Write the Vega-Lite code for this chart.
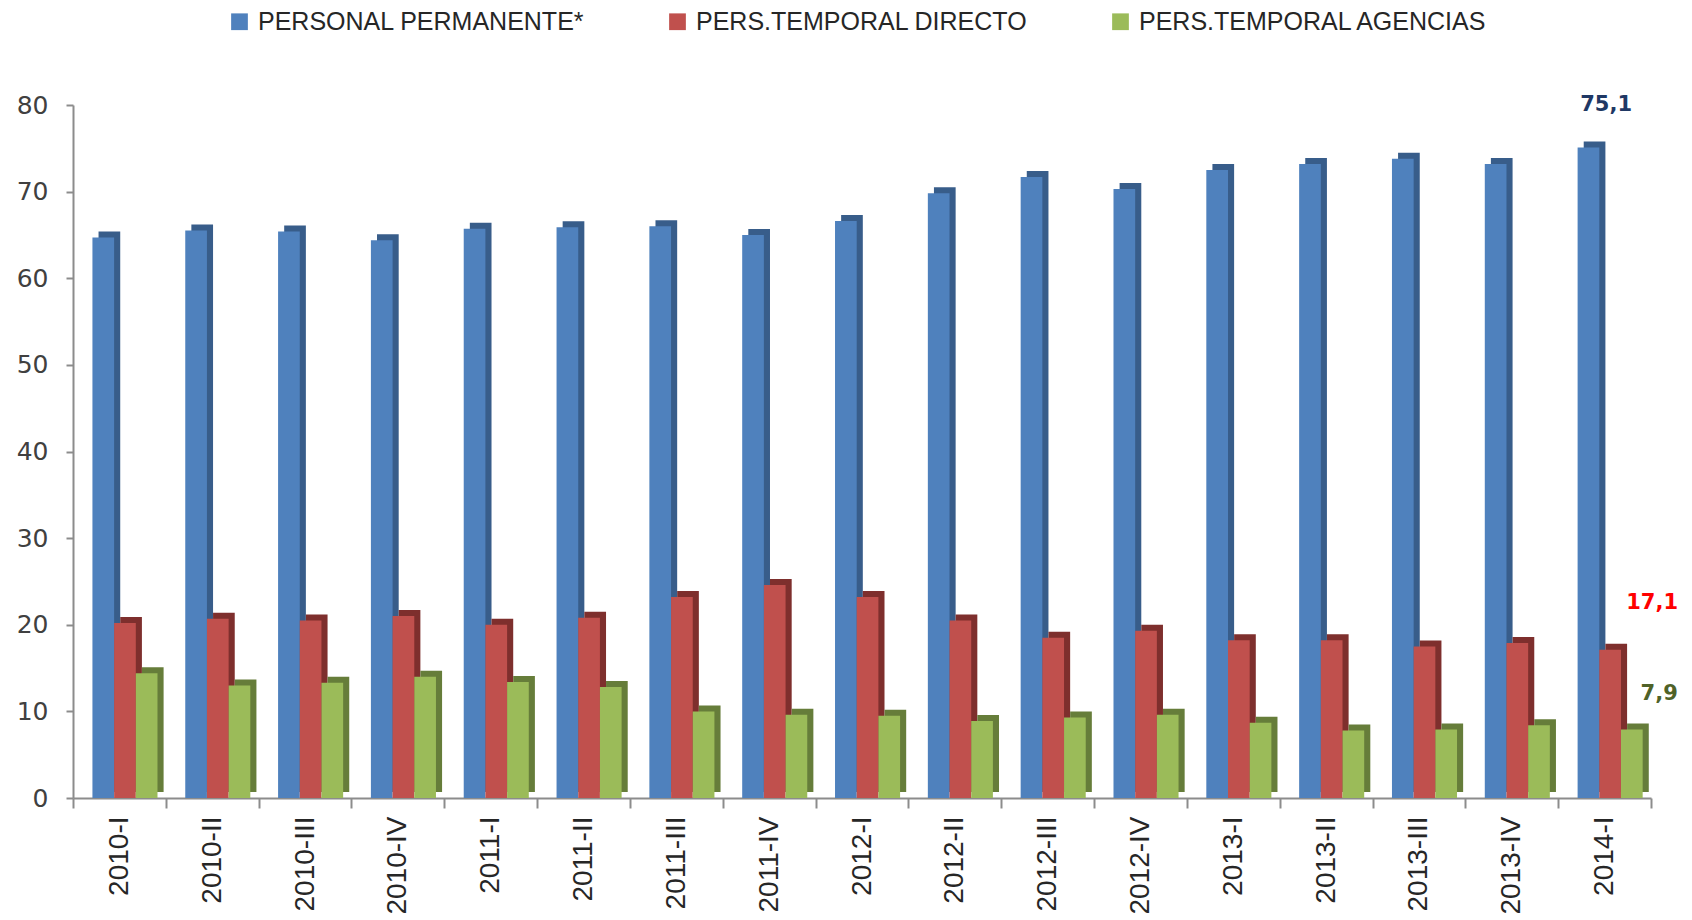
{
  "$schema": "https://vega.github.io/schema/vega-lite/v6.json",
  "width": 1578,
  "height": 693,
  "autosize": {"type": "none"},
  "padding": {"left": 73, "top": 105, "right": 41, "bottom": 122},
  "background": "white",
  "config": {
    "view": {"stroke": null},
    "locale": {"number": {"decimal": ",", "thousands": ".", "grouping": [3], "currency": ["", " €"]}}
  },
  "data": {
    "values": [
      {"q": "2010-I", "serie": "PERSONAL PERMANENTE*", "v": 64.7},
      {"q": "2010-II", "serie": "PERSONAL PERMANENTE*", "v": 65.5},
      {"q": "2010-III", "serie": "PERSONAL PERMANENTE*", "v": 65.4},
      {"q": "2010-IV", "serie": "PERSONAL PERMANENTE*", "v": 64.4},
      {"q": "2011-I", "serie": "PERSONAL PERMANENTE*", "v": 65.7},
      {"q": "2011-II", "serie": "PERSONAL PERMANENTE*", "v": 65.9},
      {"q": "2011-III", "serie": "PERSONAL PERMANENTE*", "v": 66.0},
      {"q": "2011-IV", "serie": "PERSONAL PERMANENTE*", "v": 65.0},
      {"q": "2012-I", "serie": "PERSONAL PERMANENTE*", "v": 66.6},
      {"q": "2012-II", "serie": "PERSONAL PERMANENTE*", "v": 69.8},
      {"q": "2012-III", "serie": "PERSONAL PERMANENTE*", "v": 71.7},
      {"q": "2012-IV", "serie": "PERSONAL PERMANENTE*", "v": 70.3},
      {"q": "2013-I", "serie": "PERSONAL PERMANENTE*", "v": 72.5},
      {"q": "2013-II", "serie": "PERSONAL PERMANENTE*", "v": 73.2},
      {"q": "2013-III", "serie": "PERSONAL PERMANENTE*", "v": 73.8},
      {"q": "2013-IV", "serie": "PERSONAL PERMANENTE*", "v": 73.2},
      {"q": "2014-I", "serie": "PERSONAL PERMANENTE*", "v": 75.1},
      {"q": "2010-I", "serie": "PERS.TEMPORAL DIRECTO", "v": 20.2},
      {"q": "2010-II", "serie": "PERS.TEMPORAL DIRECTO", "v": 20.7},
      {"q": "2010-III", "serie": "PERS.TEMPORAL DIRECTO", "v": 20.5},
      {"q": "2010-IV", "serie": "PERS.TEMPORAL DIRECTO", "v": 21.0},
      {"q": "2011-I", "serie": "PERS.TEMPORAL DIRECTO", "v": 20.0},
      {"q": "2011-II", "serie": "PERS.TEMPORAL DIRECTO", "v": 20.8},
      {"q": "2011-III", "serie": "PERS.TEMPORAL DIRECTO", "v": 23.2},
      {"q": "2011-IV", "serie": "PERS.TEMPORAL DIRECTO", "v": 24.6},
      {"q": "2012-I", "serie": "PERS.TEMPORAL DIRECTO", "v": 23.2},
      {"q": "2012-II", "serie": "PERS.TEMPORAL DIRECTO", "v": 20.5},
      {"q": "2012-III", "serie": "PERS.TEMPORAL DIRECTO", "v": 18.5},
      {"q": "2012-IV", "serie": "PERS.TEMPORAL DIRECTO", "v": 19.3},
      {"q": "2013-I", "serie": "PERS.TEMPORAL DIRECTO", "v": 18.2},
      {"q": "2013-II", "serie": "PERS.TEMPORAL DIRECTO", "v": 18.2},
      {"q": "2013-III", "serie": "PERS.TEMPORAL DIRECTO", "v": 17.5},
      {"q": "2013-IV", "serie": "PERS.TEMPORAL DIRECTO", "v": 17.9},
      {"q": "2014-I", "serie": "PERS.TEMPORAL DIRECTO", "v": 17.1},
      {"q": "2010-I", "serie": "PERS.TEMPORAL AGENCIAS", "v": 14.4},
      {"q": "2010-II", "serie": "PERS.TEMPORAL AGENCIAS", "v": 13.0},
      {"q": "2010-III", "serie": "PERS.TEMPORAL AGENCIAS", "v": 13.3},
      {"q": "2010-IV", "serie": "PERS.TEMPORAL AGENCIAS", "v": 14.0},
      {"q": "2011-I", "serie": "PERS.TEMPORAL AGENCIAS", "v": 13.4},
      {"q": "2011-II", "serie": "PERS.TEMPORAL AGENCIAS", "v": 12.8},
      {"q": "2011-III", "serie": "PERS.TEMPORAL AGENCIAS", "v": 10.0},
      {"q": "2011-IV", "serie": "PERS.TEMPORAL AGENCIAS", "v": 9.6},
      {"q": "2012-I", "serie": "PERS.TEMPORAL AGENCIAS", "v": 9.5},
      {"q": "2012-II", "serie": "PERS.TEMPORAL AGENCIAS", "v": 8.9},
      {"q": "2012-III", "serie": "PERS.TEMPORAL AGENCIAS", "v": 9.3},
      {"q": "2012-IV", "serie": "PERS.TEMPORAL AGENCIAS", "v": 9.6},
      {"q": "2013-I", "serie": "PERS.TEMPORAL AGENCIAS", "v": 8.7},
      {"q": "2013-II", "serie": "PERS.TEMPORAL AGENCIAS", "v": 7.8},
      {"q": "2013-III", "serie": "PERS.TEMPORAL AGENCIAS", "v": 7.9},
      {"q": "2013-IV", "serie": "PERS.TEMPORAL AGENCIAS", "v": 8.4},
      {"q": "2014-I", "serie": "PERS.TEMPORAL AGENCIAS", "v": 7.9}
    ]
  },
  "encoding": {
    "x": {
      "field": "q", "type": "nominal", "sort": null,
      "scale": {"paddingInner": 0, "paddingOuter": 0},
      "axis": {
        "title": null, "labelAngle": -90, "labelAlign": "right", "labelBaseline": "middle",
        "labelFont": "Liberation Sans", "labelFontSize": 28, "labelColor": "#262626",
        "tickBand": "extent", "tickSize": 10, "tickColor": "#8c8c8c", "tickWidth": 2,
        "domainColor": "#8c8c8c", "domainWidth": 2, "labelPadding": 8
      }
    },
    "y": {
      "field": "v", "type": "quantitative",
      "scale": {"domain": [0, 80], "nice": false},
      "axis": {
        "title": null, "values": [0, 10, 20, 30, 40, 50, 60, 70, 80], "grid": false,
        "labelFont": "DejaVu Sans", "labelFontSize": 25, "labelColor": "#404040",
        "tickSize": 7, "tickColor": "#8c8c8c", "tickWidth": 2,
        "domainColor": "#8c8c8c", "domainWidth": 2, "labelPadding": 18
      }
    }
  },
  "layer": [
    {
      "mark": {"type": "bar", "yOffset": -6},
      "encoding": {
        "xOffset": {
          "field": "serie", "type": "nominal",
          "sort": ["PERSONAL PERMANENTE*", "PERS.TEMPORAL DIRECTO", "PERS.TEMPORAL AGENCIAS"],
          "scale": {"paddingInner": 0, "paddingOuter": 0.64, "align": 0.92}
        },
        "color": {
          "field": "serie", "type": "nominal", "legend": null,
          "scale": {
            "domain": ["PERSONAL PERMANENTE*", "PERS.TEMPORAL DIRECTO", "PERS.TEMPORAL AGENCIAS"],
            "range": ["#385D8A", "#7E2F2D", "#667D3A"]
          }
        }
      }
    },
    {
      "mark": {"type": "bar"},
      "encoding": {
        "xOffset": {
          "field": "serie", "type": "nominal",
          "sort": ["PERSONAL PERMANENTE*", "PERS.TEMPORAL DIRECTO", "PERS.TEMPORAL AGENCIAS"],
          "scale": {"paddingInner": 0, "paddingOuter": 0.64, "align": 0.7}
        },
        "color": {
          "field": "serie", "type": "nominal",
          "scale": {
            "domain": ["PERSONAL PERMANENTE*", "PERS.TEMPORAL DIRECTO", "PERS.TEMPORAL AGENCIAS"],
            "range": ["#4F81BD", "#C0504D", "#9BBB59"]
          },
          "legend": {
            "title": null, "orient": "none", "legendX": 154, "legendY": -96,
            "direction": "horizontal", "symbolType": "square", "symbolSize": 280,
            "symbolStrokeWidth": 0, "labelFont": "Liberation Sans", "labelFontSize": 25,
            "labelColor": "#262626", "labelLimit": 0, "columnPadding": 80, "labelOffset": 6
          }
        }
      }
    },
    {
      "transform": [{"filter": "datum.q == '2014-I' && datum.serie == 'PERSONAL PERMANENTE*'"}],
      "mark": {"type": "text", "dx": -17, "dy": -42, "font": "DejaVu Sans", "fontSize": 21, "fontWeight": "bold", "color": "#1F3864"},
      "encoding": {
        "xOffset": {
          "field": "serie", "type": "nominal",
          "sort": ["PERSONAL PERMANENTE*", "PERS.TEMPORAL DIRECTO", "PERS.TEMPORAL AGENCIAS"],
          "scale": {"paddingInner": 0, "paddingOuter": 0.64, "align": 0.7}
        },
        "text": {"field": "v", "type": "quantitative", "format": ".1f"}
      }
    },
    {
      "transform": [{"filter": "datum.q == '2014-I' && datum.serie == 'PERS.TEMPORAL DIRECTO'"}],
      "mark": {"type": "text", "dx": 29, "dy": -47, "font": "DejaVu Sans", "fontSize": 21, "fontWeight": "bold", "color": "#FF0000"},
      "encoding": {
        "xOffset": {
          "field": "serie", "type": "nominal",
          "sort": ["PERSONAL PERMANENTE*", "PERS.TEMPORAL DIRECTO", "PERS.TEMPORAL AGENCIAS"],
          "scale": {"paddingInner": 0, "paddingOuter": 0.64, "align": 0.7}
        },
        "text": {"field": "v", "type": "quantitative", "format": ".1f"}
      }
    },
    {
      "transform": [{"filter": "datum.q == '2014-I' && datum.serie == 'PERS.TEMPORAL AGENCIAS'"}],
      "mark": {"type": "text", "dx": 36, "dy": -36, "font": "DejaVu Sans", "fontSize": 21, "fontWeight": "bold", "color": "#4F6228"},
      "encoding": {
        "xOffset": {
          "field": "serie", "type": "nominal",
          "sort": ["PERSONAL PERMANENTE*", "PERS.TEMPORAL DIRECTO", "PERS.TEMPORAL AGENCIAS"],
          "scale": {"paddingInner": 0, "paddingOuter": 0.64, "align": 0.7}
        },
        "text": {"field": "v", "type": "quantitative", "format": ".1f"}
      }
    }
  ],
  "resolve": {"scale": {"color": "independent", "xOffset": "independent"}}
}
